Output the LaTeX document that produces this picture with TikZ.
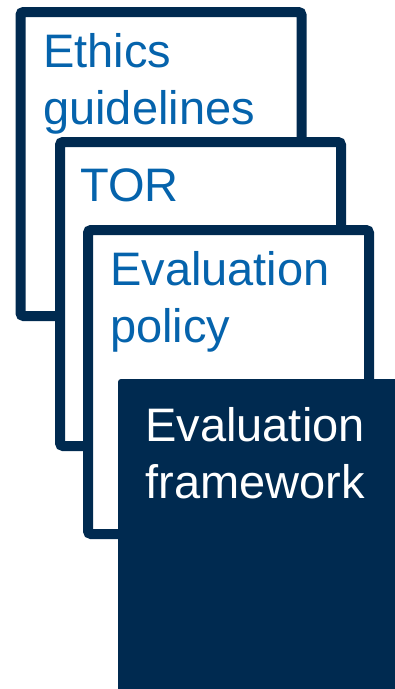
\documentclass[tikz,border=0pt]{standalone}
\usepackage{fontspec}
\setmainfont{Liberation Sans}
\usepackage{tikz}
\definecolor{navy}{RGB}{0,42,80}
\definecolor{docblue}{RGB}{5,99,172}
\tikzstyle{sheet}=[draw=navy, line width=10pt, fill=white, rounded corners=3pt, inner sep=0pt, outer sep=0pt, anchor=north west, minimum width=281pt, minimum height=304pt]
\tikzstyle{topsheet}=[fill=navy, rounded corners=3pt, inner sep=0pt, outer sep=0pt, anchor=north west, minimum width=300pt, minimum height=330pt]
\tikzstyle{doclabel}=[inner sep=0pt, anchor=base west, align=left, text=docblue, font=\fontsize{47pt}{57pt}\selectfont]
\tikzstyle{toplabel}=[doclabel, align=center, anchor=base, text=white]

\begin{document}
\begin{tikzpicture}[x=1pt, y=-1pt]
        \useasboundingbox (0,0) rectangle (395,689);
        \node[sheet]    (ethics)  at (20.5, 12) {};
        \node[doclabel] (ethicsT) at (43, 124) {Ethics\\guidelines};
        \node[sheet]    (tor)     at (60, 142) {};
        \node[doclabel] (torT)    at (80, 201) {TOR};
        \node[sheet]    (policy)  at (88, 230) {};
        \node[doclabel] (policyT) at (110, 342) {Evaluation\\policy};
        \node[topsheet] (frame)   at (118, 379) {};
        \node[toplabel] (frameT)  at (255, 498) {Evaluation\\framework};
    \end{tikzpicture}
\end{document}
